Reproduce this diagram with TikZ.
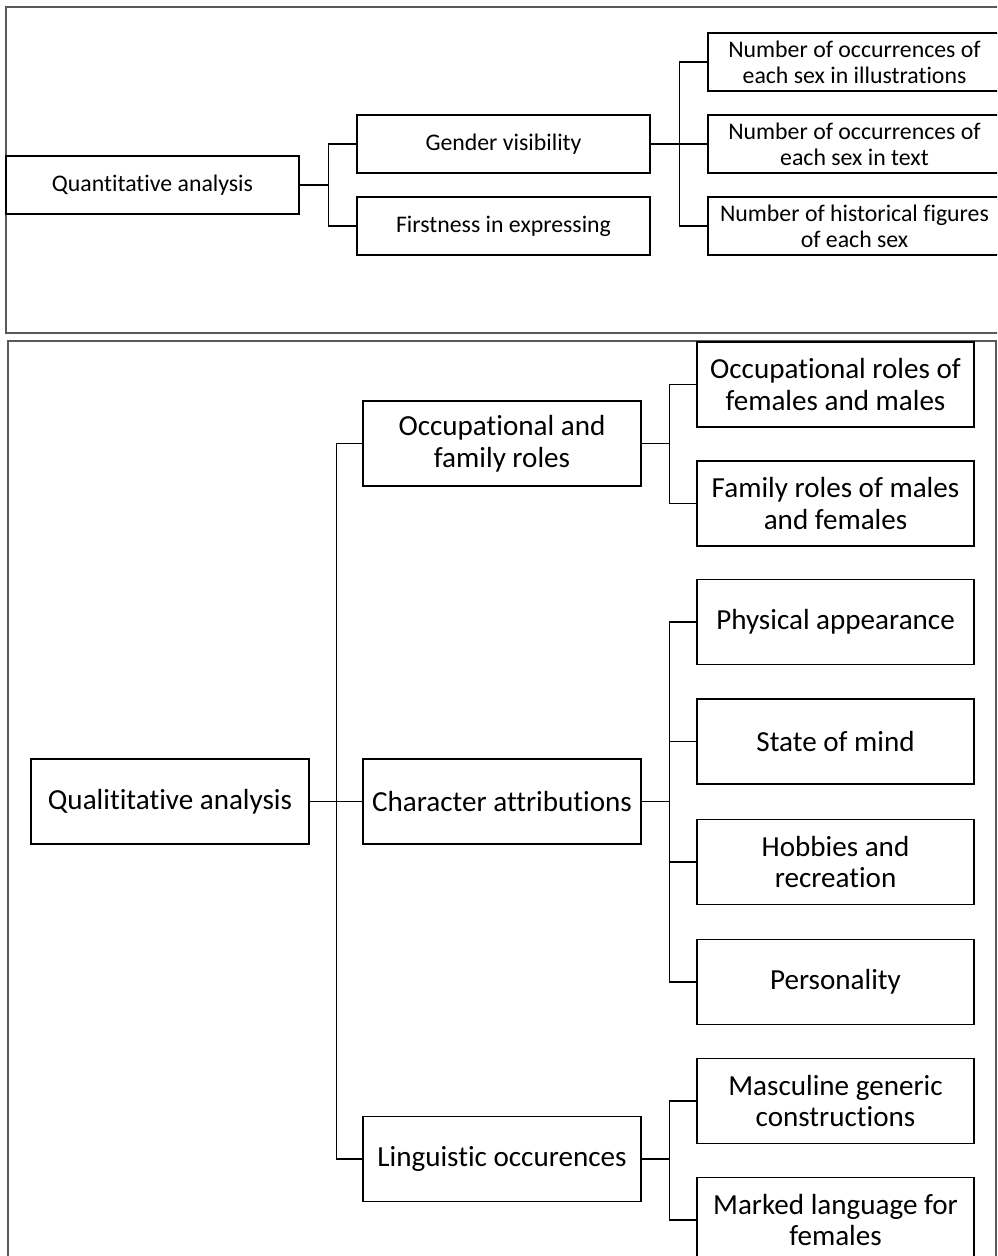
\documentclass[tikz,border=0pt]{standalone}
\usepackage{fontspec}
\setmainfont{Carlito}[Ligatures={NoCommon,NoContextual,NoRare}]

\tikzset{
    frame/.style={draw=black!65, line width=0.6pt},
    link/.style={draw, line width=0.55pt},
    topbox/.style={draw, line width=0.6pt, align=center, inner sep=0pt,
        minimum width=146.5pt, minimum height=29pt,
        font=\fontsize{11.9}{13}\selectfont},
    midbox/.style={draw, line width=0.6pt, align=center, inner sep=0pt,
        minimum width=139pt, minimum height=42.5pt,
        font=\fontsize{14.55}{15.9}\selectfont},
    leafbox/.style={midbox, minimum width=138.5pt}
}

\begin{document}
\begin{tikzpicture}[x=0.5pt, y=-0.5pt]
    \useasboundingbox (0,0) rectangle (997,1256);
    \clip (0,0) rectangle (997,1256);

    % quantitative part
    \draw [frame] (6,7) rectangle (1020,333);
    \node [topbox] (quant) at (152.5,185) {Quantitative analysis};
    \node [topbox] (gender) at (503.5,144) {Gender visibility};
    \node [topbox] (first) at (503.5,226) {Firstness in expressing};
    \node [topbox] (illus) at (854.5,62)
        {Number of occurrences of\\each sex in illustrations};
    \node [topbox] (intext) at (854.5,144)
        {Number of occurrences of\\each sex in text};
    \node [topbox] (histfig) at (854.5,226)
        {Number of historical figures\\of each sex};

    \draw [link] (quant.east) -- ++(29,0) |- (gender.west);
    \draw [link] (quant.east) -- ++(29,0) |- (first.west);
    \draw [link] (gender.east) -- (intext.west);
    \draw [link] (gender.east) -- ++(29,0) |- (illus.west);
    \draw [link] (gender.east) -- ++(29,0) |- (histfig.west);

    % qualitative part
    \draw [frame] (8,341) rectangle (996,1300);
    \node [midbox] (qual) at (170,801.5) {Qualititative analysis};
    \node [midbox] (roles) at (502,443.5) {Occupational and\\family roles};
    \node [midbox] (attrib) at (502,801.5) {Character attributions};
    \node [midbox] (ling) at (502,1159) {Linguistic occurences};

    \node [leafbox] (occrole) at (835.5,384.5)
        {Occupational roles of\\females and males};
    \node [leafbox] (famrole) at (835.5,503.5)
        {Family roles of males\\and females};
    \node [leafbox] (phys) at (835.5,622) {Physical appearance};
    \node [leafbox] (mind) at (835.5,741.5) {State of mind};
    \node [leafbox] (hobby) at (835.5,862) {Hobbies and\\recreation};
    \node [leafbox] (person) at (835.5,982) {Personality};
    \node [leafbox] (mascgen) at (835.5,1101)
        {Masculine generic\\constructions};
    \node [leafbox] (marked) at (835.5,1220)
        {Marked language for\\females};

    \draw [link] (qual.east) -- (attrib.west);
    \draw [link] (qual.east) -- ++(27,0) |- (roles.west);
    \draw [link] (qual.east) -- ++(27,0) |- (ling.west);

    \foreach \leaf in {occrole,famrole}
        \draw [link] (roles.east) -- ++(28,0) |- (\leaf.west);
    \foreach \leaf in {phys,mind,hobby,person}
        \draw [link] (attrib.east) -- ++(28,0) |- (\leaf.west);
    \foreach \leaf in {mascgen,marked}
        \draw [link] (ling.east) -- ++(28,0) |- (\leaf.west);
\end{tikzpicture}
\end{document}
